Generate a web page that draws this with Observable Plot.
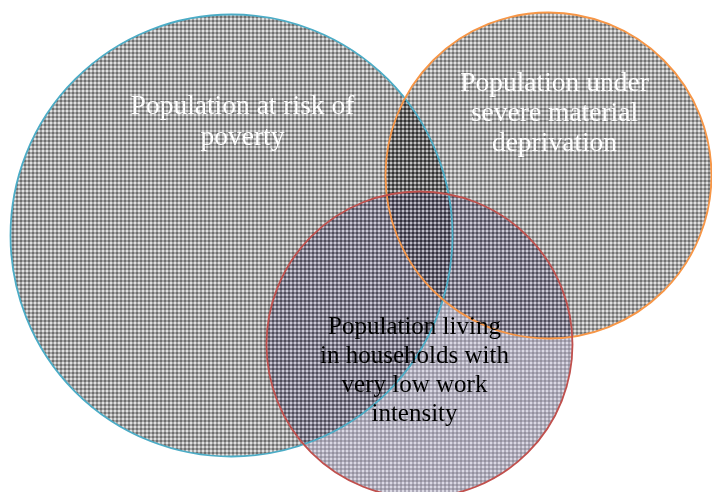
<!DOCTYPE html>
<html>
<head>
<meta charset="utf-8">
<script src="https://cdn.jsdelivr.net/npm/d3@7"></script>
<script src="https://cdn.jsdelivr.net/npm/@observablehq/plot@0.6"></script>
<style>
  html, body { margin: 0; padding: 0; background: #fff; }
  svg { display: block; }
</style>
</head>
<body>
<div id="chart"></div>
<script>
// Venn sets (centre and radius in chart units)
const setNames = ["poverty", "deprivation", "workIntensity"];
const setCx = [231, 548, 419];
const setCy = [235, 175, 344];
const setR = [221, 163, 153];
const setStroke = ["#4bacc6", "#f79646", "#c0504d"];
const setPattern = ["p1", "p2", "p3"];
const setLabels = [
  "Population at risk of\npoverty",
  "Population under\nsevere material\ndeprivation",
  "Population living\nin households with\nvery low work\nintensity"
];
const labelX = [242, 554, 414];
const labelY = [119, 111, 368];
const labelColor = ["#ffffff", "#ffffff", "#000000"];
const labelSize = [27.5, 27.5, 25];
const labelLine = [1.13, 1.1, 1.16];

const sets = setNames.map((name, i) => ({
  name, cx: setCx[i], cy: setCy[i], r: setR[i],
  stroke: setStroke[i], pat: setPattern[i],
  label: setLabels[i], lx: labelX[i], ly: labelY[i], lc: labelColor[i]
}));

const fillOp = [1, 1, 0.52];
const blend = ["normal", "multiply", "normal"];
const fillMarks = sets.map((s, i) =>
  Plot.dot([s], {
    x: "cx", y: "cy", r: "r",
    fill: `url(#${s.pat})`,
    fillOpacity: fillOp[i],
    stroke: "none",
    mixBlendMode: blend[i]
  })
);

const textMarks = sets.map((s, i) =>
  Plot.text([s], {
    x: "lx", y: "ly", text: "label",
    fill: s.lc,
    fontSize: labelSize[i],
    fontFamily: "Liberation Serif, Times New Roman, serif",
    lineHeight: labelLine[i],
    textAnchor: "middle"
  })
);

const svg = Plot.plot({
  width: 712,
  height: 492,
  margin: 0,
  x: {domain: [0, 712], range: [0, 712], axis: null},
  y: {domain: [0, 492], range: [0, 492], axis: null},
  r: {type: "linear", domain: [0, 100], range: [0, 100]},
  color: {type: "identity"},
  style: {background: "#ffffff", overflow: "hidden"},
  marks: [
    ...fillMarks,
    Plot.dot(sets, {x: "cx", y: "cy", r: "r", fill: "none", stroke: d => d.stroke, strokeWidth: 1.8}),
    ...textMarks
  ]
});

function pat(id, base, white, dark) {
  return `<pattern id="${id}" width="4" height="4" patternUnits="userSpaceOnUse">
    <rect width="4" height="4" fill="${base}"/>
    <rect x="0" y="0" width="1" height="1" fill="${dark}"/>
    <rect x="2" y="1" width="1" height="1" fill="${white}"/>
    <rect x="1" y="2" width="3" height="1" fill="${white}"/>
    <rect x="2" y="3" width="1" height="1" fill="${white}"/>
  </pattern>`;
}

svg.insertAdjacentHTML("afterbegin", `<defs>
  ${pat("p1", "#848484", "#ffffff", "#2e2e2e")}
  ${pat("p2", "#888888", "#ffffff", "#303030")}
  ${pat("p3", "#3a3452", "#e2def2", "#18141f")}
</defs>`);

document.getElementById("chart").appendChild(svg);
</script>
</body>
</html>
